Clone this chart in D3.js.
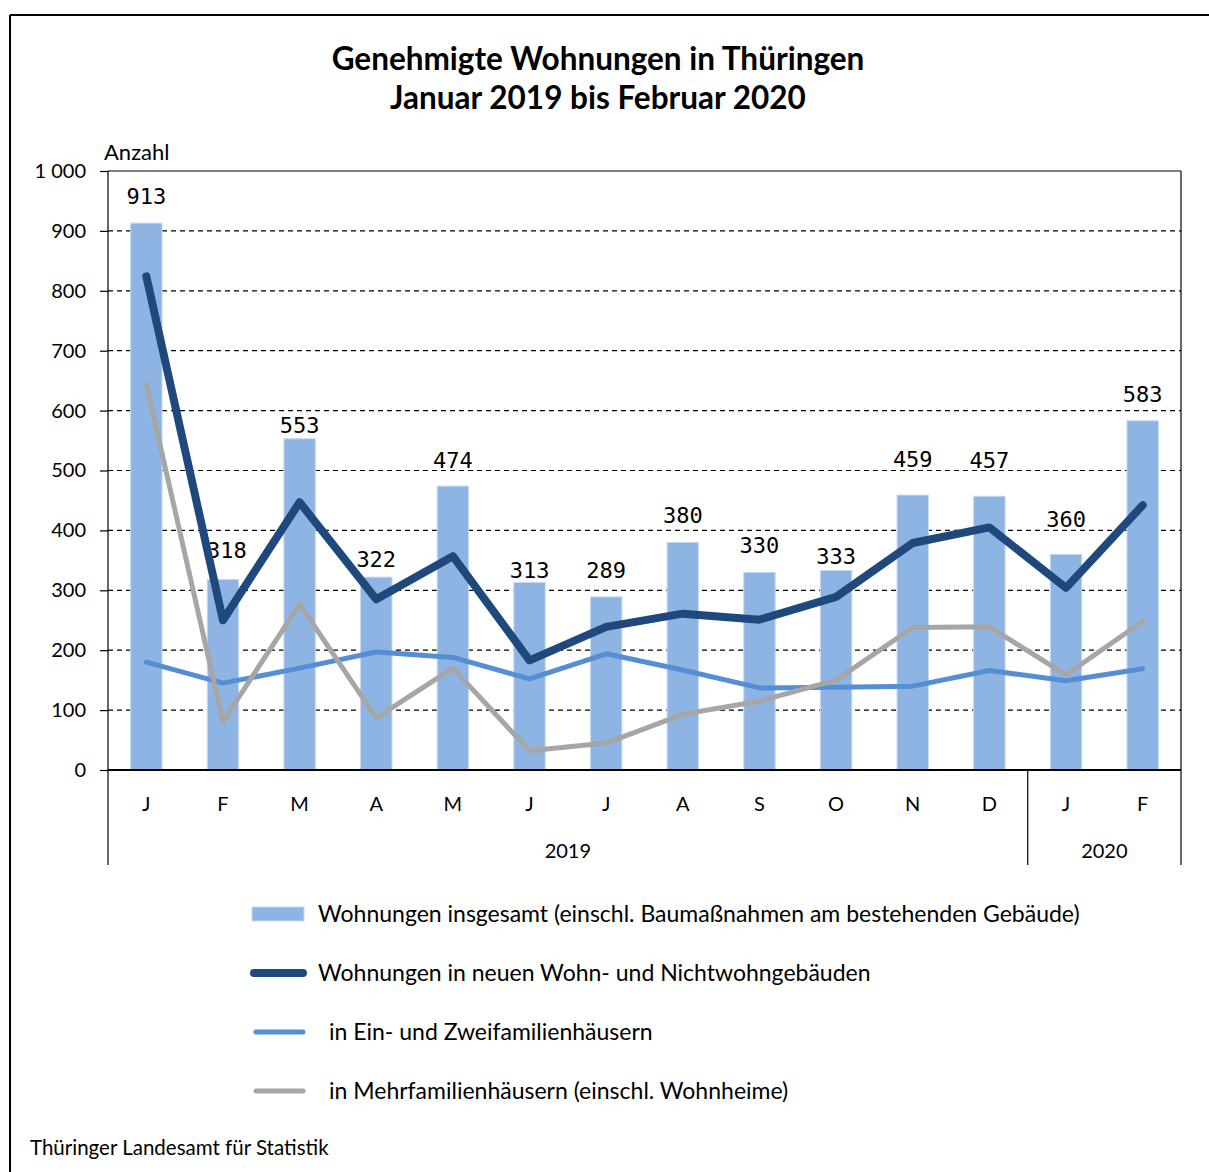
<!DOCTYPE html>
<html>
<head>
<meta charset="utf-8">
<script src="https://cdn.jsdelivr.net/npm/d3@7"></script>
<style>
  body { margin: 0; background: #fff; }
  svg text { font-family: "Source Sans Pro", Lato, "Noto Sans", sans-serif; fill: #000; }
  .val { font-family: "DejaVu Sans Mono", monospace; }
</style>
</head>
<body>
<svg id="chart"></svg>
<script>
const months = ["J", "F", "M", "A", "M", "J", "J", "A", "S", "O", "N", "D", "J", "F"];
const years = [{ label: "2019", from: 0, to: 11 }, { label: "2020", from: 12, to: 13 }];
const total = [913, 318, 553, 322, 474, 313, 289, 380, 330, 333, 459, 457, 360, 583];
const newBuildings = [824, 250, 447, 285, 357, 183, 239, 261, 251, 289, 379, 405, 304, 442];
const oneTwoFamily = [180, 145, 170, 197, 188, 152, 194, 167, 137, 138, 140, 166, 149, 169];
const multiFamily = [644, 81, 277, 87, 170, 32, 45, 93, 115, 150, 238, 239, 159, 248];
const yTicks = [0, 100, 200, 300, 400, 500, 600, 700, 800, 900, 1000];

// labels were nudged by hand in the original to dodge the lines
const labelGap = [19, 22, 6, 10, 18, 5, 19, 19, 19, 7, 28, 28, 27, 19];
const labelShift = [0, 4, 0, 0, 0, 0, 0, 0, 0, 0, 0, 0, 0, 0];

const width = 1209, height = 1172;
const plotLeft = 108, plotRight = 1181, plotTop = 171, plotBottom = 770;

const svg = d3.select("#chart").attr("width", width).attr("height", height);

// frame
svg.append("line").attr("x1", 10).attr("y1", 15).attr("x2", width).attr("y2", 15)
  .attr("stroke", "#000").attr("stroke-width", 2);
svg.append("line").attr("x1", 10).attr("y1", 15).attr("x2", 10).attr("y2", height)
  .attr("stroke", "#000").attr("stroke-width", 2);

// title
svg.append("text").attr("x", 598).attr("y", 70).attr("text-anchor", "middle")
  .attr("font-size", 31.5).attr("font-weight", "bold").text("Genehmigte Wohnungen in Thüringen");
svg.append("text").attr("x", 598).attr("y", 109).attr("text-anchor", "middle")
  .attr("font-size", 31.5).attr("font-weight", "bold").text("Januar 2019 bis Februar 2020");

const x = d3.scaleBand().domain(d3.range(months.length)).range([plotLeft, plotRight]).paddingInner(0);
const y = d3.scaleLinear().domain([0, 1000]).range([plotBottom, plotTop]);

// grid lines
svg.selectAll(".grid")
  .data(yTicks.filter((d) => d > 0 && d < 1000))
  .enter()
  .append("line")
  .attr("x1", plotLeft).attr("x2", plotRight)
  .attr("y1", (d) => y(d)).attr("y2", (d) => y(d))
  .attr("stroke", "#000").attr("stroke-width", 1.2).attr("stroke-dasharray", "5,4");

// y axis
const yAxis = svg.append("g").attr("transform", `translate(${plotLeft},0)`)
  .call(d3.axisLeft(y).tickValues(yTicks).tickSize(8).tickPadding(14)
    .tickFormat((d) => d3.format(",")(d).replace(",", " ")));
yAxis.select(".domain").remove();
yAxis.selectAll("line").attr("stroke", "#000").attr("stroke-width", 1.2);
yAxis.selectAll("text").attr("font-size", 20).attr("font-family", null);

svg.append("text").attr("x", 104).attr("y", 160).attr("font-size", 22).text("Anzahl");

// bars
const barW = x.bandwidth() * 0.41;
svg.selectAll(".bar")
  .data(total)
  .enter()
  .append("rect")
  .attr("x", (d, i) => x(i) + x.bandwidth() / 2 - barW / 2)
  .attr("y", (d) => y(d))
  .attr("width", barW)
  .attr("height", (d) => y(0) - y(d))
  .attr("fill", "#8EB4E3")
  .attr("stroke", "#C6D9F1")
  .attr("stroke-width", 1);

// bar value labels
svg.selectAll(".val")
  .data(total)
  .enter()
  .append("text")
  .attr("class", "val")
  .attr("x", (d, i) => x(i) + x.bandwidth() / 2 + labelShift[i])
  .attr("y", (d, i) => y(d) - labelGap[i])
  .attr("text-anchor", "middle")
  .attr("font-size", 22)
  .text((d) => d);

// plot frame
svg.append("line").attr("x1", plotLeft).attr("x2", plotRight).attr("y1", plotTop).attr("y2", plotTop)
  .attr("stroke", "#000").attr("stroke-width", 1.2);
svg.append("line").attr("x1", plotLeft).attr("x2", plotLeft).attr("y1", plotTop).attr("y2", 865)
  .attr("stroke", "#000").attr("stroke-width", 1.2);
svg.append("line").attr("x1", plotRight).attr("x2", plotRight).attr("y1", plotTop).attr("y2", 865)
  .attr("stroke", "#000").attr("stroke-width", 1.2);
svg.append("line").attr("x1", x(12)).attr("x2", x(12)).attr("y1", plotBottom).attr("y2", 865)
  .attr("stroke", "#000").attr("stroke-width", 1.2);

// lines
const line = d3.line()
  .x((d, i) => x(i) + x.bandwidth() / 2)
  .y((d) => y(d));

const series = [
  { values: oneTwoFamily, color: "#558ED5", w: 5 },
  { values: multiFamily, color: "#A6A6A6", w: 5 },
  { values: newBuildings, color: "#1F497D", w: 8 },
];
series.forEach((s) => {
  svg.append("path")
    .datum(s.values)
    .attr("d", line)
    .attr("fill", "none")
    .attr("stroke", s.color)
    .attr("stroke-width", s.w)
    .attr("stroke-linejoin", "round")
    .attr("stroke-linecap", "round");
});

// x axis line
svg.append("line").attr("x1", plotLeft).attr("x2", plotRight).attr("y1", plotBottom).attr("y2", plotBottom)
  .attr("stroke", "#000").attr("stroke-width", 2);

// month labels
svg.selectAll(".month")
  .data(months)
  .enter()
  .append("text")
  .attr("x", (d, i) => x(i) + x.bandwidth() / 2)
  .attr("y", 811)
  .attr("text-anchor", "middle")
  .attr("font-size", 20)
  .text((d) => d);

// year labels
svg.selectAll(".year")
  .data(years)
  .enter()
  .append("text")
  .attr("x", (d) => (x(d.from) + x(d.to) + x.bandwidth()) / 2)
  .attr("y", 858)
  .attr("text-anchor", "middle")
  .attr("font-size", 20)
  .text((d) => d.label);

// legend
const legendItems = [
  { type: "bar", label: "Wohnungen insgesamt (einschl. Baumaßnahmen am bestehenden Gebäude)", dx: 0 },
  { type: "line", color: "#1F497D", w: 8, label: "Wohnungen in neuen Wohn- und Nichtwohngebäuden", dx: 0 },
  { type: "line", color: "#558ED5", w: 5, label: "in Ein- und Zweifamilienhäusern", dx: 11 },
  { type: "line", color: "#A6A6A6", w: 5, label: "in Mehrfamilienhäusern (einschl. Wohnheime)", dx: 11 },
];
const legend = svg.selectAll(".legend")
  .data(legendItems)
  .enter()
  .append("g")
  .attr("transform", (d, i) => `translate(0,${914 + i * 59})`);

legend.filter((d) => d.type === "bar")
  .append("rect")
  .attr("x", 252).attr("y", -7).attr("width", 52).attr("height", 14)
  .attr("fill", "#8EB4E3").attr("stroke", "#C6D9F1");

legend.filter((d) => d.type === "line")
  .append("line")
  .attr("x1", (d) => (d.w > 6 ? 254 : 256)).attr("x2", 303)
  .attr("y1", 0).attr("y2", 0)
  .attr("stroke", (d) => d.color)
  .attr("stroke-width", (d) => d.w)
  .attr("stroke-linecap", "round");

legend.append("text")
  .attr("x", (d) => 318 + d.dx)
  .attr("y", 8)
  .attr("font-size", 23)
  .text((d) => d.label);

// source
svg.append("text").attr("x", 30).attr("y", 1155).attr("font-size", 20.5)
  .text("Thüringer Landesamt für Statistik");
</script>
</body>
</html>
